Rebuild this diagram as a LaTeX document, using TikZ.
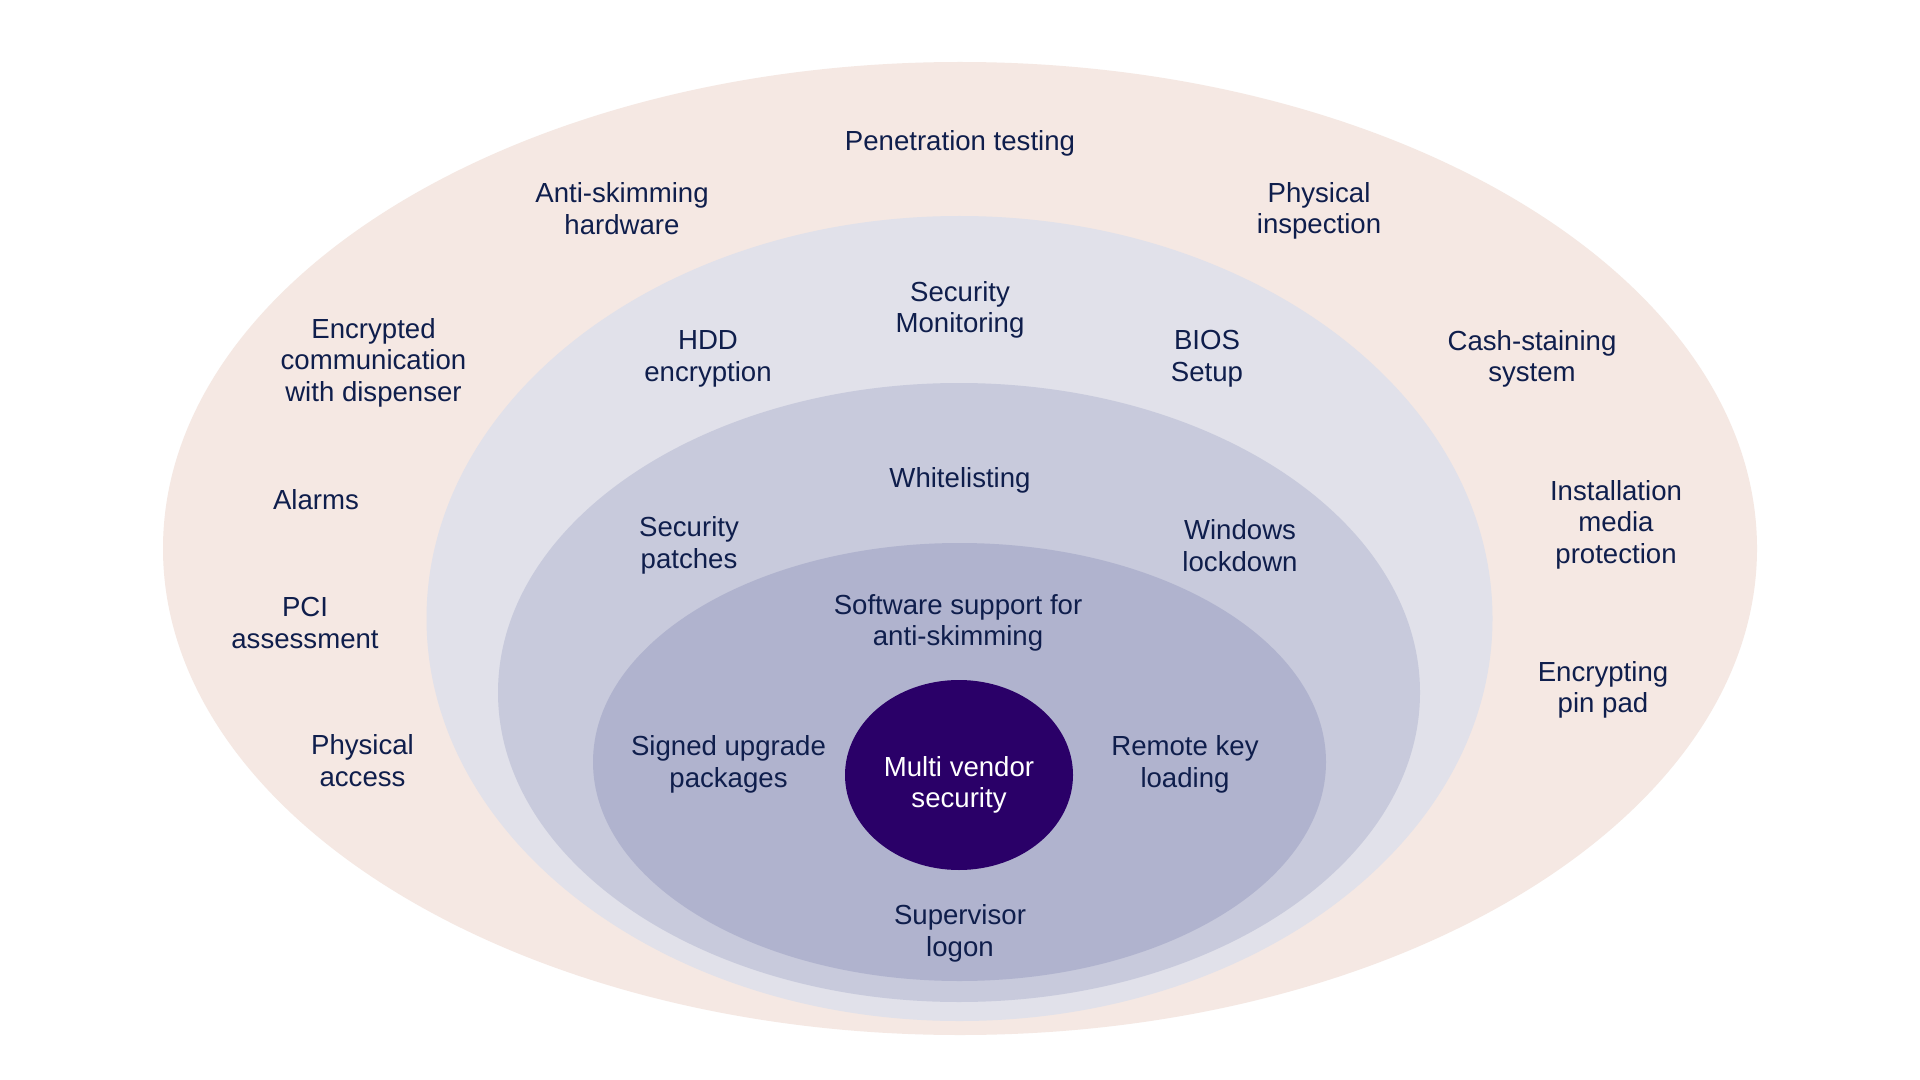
\documentclass[tikz,border=0pt]{standalone}
\usepackage{fontspec}
\setmainfont{Liberation Sans}
\usetikzlibrary{shapes.geometric}
\definecolor{peach}{HTML}{F5E8E3}
\definecolor{ringb}{HTML}{E1E1EA}
\definecolor{ringc}{HTML}{C8CADC}
\definecolor{ringd}{HTML}{B0B3CE}
\definecolor{corec}{HTML}{2A0068}
\definecolor{navy}{HTML}{0F1E4C}
\begin{document}
\begin{tikzpicture}[x=0.5pt,y=-0.5pt,
  lbl/.style={font=\fontsize{13.8}{15.9}\selectfont, text=navy, align=center, inner sep=0pt, yshift=-1.4pt},
  corelbl/.style={lbl, text=white},
  coreshape/.style={ellipse, fill=corec, minimum width=114pt, minimum height=95pt, inner sep=0pt}]
\useasboundingbox (0,0) rectangle (1920,1080);
\fill[white] (0,0) rectangle (1920,1080);
% rings
\fill[peach] (960,548.5) ellipse [x radius=398.5pt, y radius=243.25pt];
\fill[ringb] (959.5,618.5) ellipse [x radius=266.5pt, y radius=201.25pt];
\fill[ringc] (959,692.5) ellipse [x radius=230.5pt, y radius=154.75pt];
\fill[ringd] (959.5,762) ellipse [x radius=183.25pt, y radius=109.5pt];
\node[coreshape] (core) at (959,775) {};
% labels
\node[lbl] (pen) at (960,141) {Penetration testing};
\node[lbl] (ask) at (622,206) {Anti-skimming\\hardware};
\node[lbl] (phi) at (1319,208) {Physical\\inspection};
\node[lbl] (enc) at (373.5,360) {Encrypted\\communication\\with dispenser};
\node[lbl] (secm) at (960,307) {Security\\Monitoring};
\node[lbl] (hdd) at (708,356) {HDD\\encryption};
\node[lbl] (bios) at (1207,356) {BIOS\\Setup};
\node[lbl] (cash) at (1532,356) {Cash-staining\\system};
\node[lbl] (alarm) at (316,497) {Alarms};
\node[lbl] (white) at (960,478) {Whitelisting};
\node[lbl] (secp) at (689,542.5) {Security\\patches};
\node[lbl] (win) at (1240,542.5) {Windows\\lockdown};
\node[lbl] (inst) at (1616,522) {Installation\\media\\protection};
\node[lbl] (pci) at (305,620) {PCI\\assessment};
\node[lbl] (soft) at (958,620) {Software support for\\anti-skimming};
\node[lbl] (pin) at (1603,687) {Encrypting\\pin pad};
\node[lbl] (phac) at (362.5,758) {Physical\\access};
\node[lbl] (sign) at (728.5,761.5) {Signed upgrade\\packages};
\node[corelbl] (mvs) at (959,782) {Multi vendor\\security};
\node[lbl] (rkl) at (1185,761.5) {Remote key\\loading};
\node[lbl] (sup) at (960,930.5) {Supervisor\\logon};
\end{tikzpicture}
\end{document}
